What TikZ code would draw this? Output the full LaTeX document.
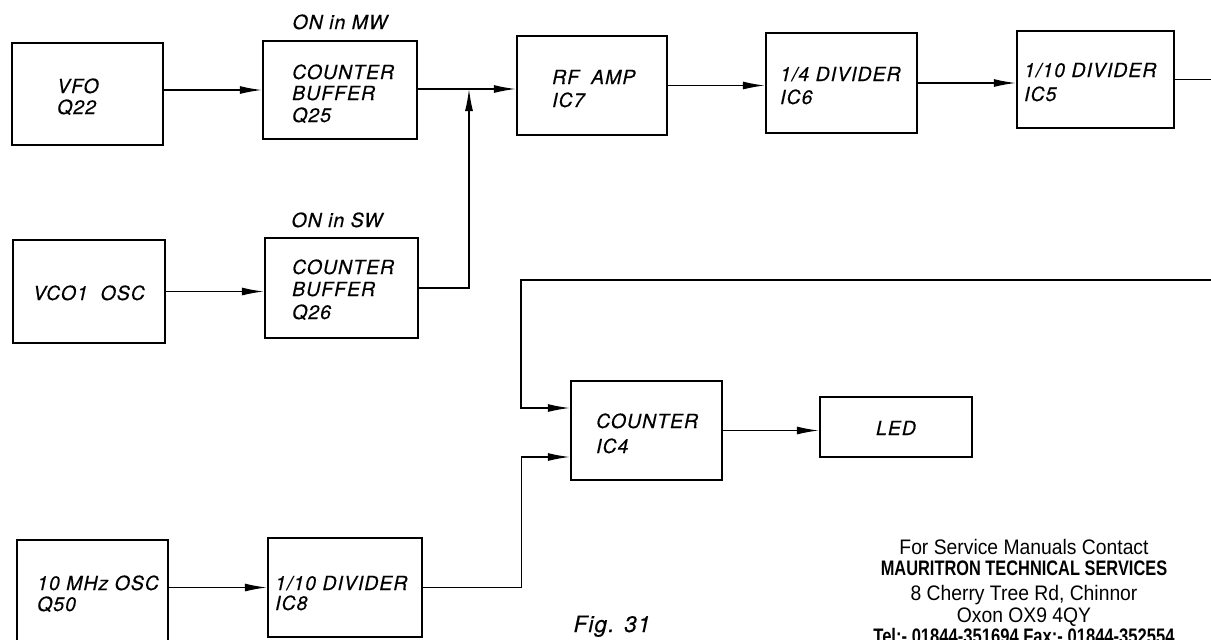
\documentclass[tikz,border=0pt]{standalone}
\usepackage{fontspec}
\usepackage{graphicx}
\usetikzlibrary{arrows.meta,calc}
\newfontfamily\lblfont[LetterSpace=5,FakeBold=0.4]{TeX Gyre Heros}
\newfontfamily\ctcfont{Liberation Sans}
\begin{document}
\begin{tikzpicture}[x=1pt,y=-1pt,
  box/.style={draw,line width=2.4pt,inner sep=0pt,minimum width=#1},
  box/.default=152pt,
  txt/.style={inner sep=0pt,anchor=base west,font=\lblfont\itshape\fontsize{19.5}{22}\selectfont},
  ctc/.style={inner sep=0pt,anchor=base,font=\ctcfont\fontsize{21}{24}\selectfont},
  wire/.style={line width=1.3pt},
  arr/.style={wire,-{Latex[length=22pt,width=8pt]}}]
\useasboundingbox (0,0) rectangle (1211,640);
% boxes
\node[box=151pt,minimum height=102pt] (vfo) at (87.5,94) {};
\node[box=154pt,minimum height=98pt] (cb1) at (340,90) {};
\node[box=152pt,minimum height=103pt] (vco) at (89,291.5) {};
\node[box=153pt,minimum height=100pt] (cb2) at (341.5,288) {};
\node[box=150pt,minimum height=99pt] (rf) at (592,85.5) {};
\node[box=151pt,minimum height=100pt] (div4) at (841.5,83) {};
\node[box=157pt,minimum height=97pt] (div10a) at (1095.5,79.5) {};
\node[box=151pt,minimum height=99pt] (cnt) at (646.5,430.5) {};
\node[box=152pt,minimum height=60pt] (led) at (896,427) {};
\node[box=151pt,minimum height=106pt] (osc10) at (92.5,593) {};
\node[box=154pt,minimum height=99pt] (div10b) at (345,587.5) {};
% texts
\node[txt] (t1a) at (57,93) {VFO};
\node[txt] (t1b) at (57,114) {Q22};
\node[txt] (t2a) at (292,79) {COUNTER};
\node[txt] (t2b) at (292,100) {BUFFER};
\node[txt] (t2c) at (292,122) {Q25};
\node[txt,anchor=base] (t2d) at (340,29) {ON in MW};
\node[txt] (t3a) at (33,300) {VCO1\ \ OSC};
\node[txt] (t4a) at (292,274) {COUNTER};
\node[txt] (t4b) at (292,296) {BUFFER};
\node[txt] (t4c) at (292,319) {Q26};
\node[txt,anchor=base] (t4d) at (337,227) {ON in SW};
\node[txt] (t5a) at (552,84) {RF\hspace{12pt}AMP};
\node[txt] (t5b) at (552,107) {IC7};
\node[txt] (t6a) at (780,81) {1/4 DIVIDER};
\node[txt] (t6b) at (780,104) {IC6};
\node[txt] (t7a) at (1024,77) {1/10 DIVIDER};
\node[txt] (t7b) at (1024,101) {IC5};
\node[txt] (t8a) at (596,428) {COUNTER};
\node[txt] (t8b) at (596,453) {IC4};
\node[txt,anchor=base] (t9a) at (896,435) {LED};
\node[txt] (t10a) at (37,590) {10 MHz OSC};
\node[txt] (t10b) at (37,611) {Q50};
\node[txt] (t11a) at (275,590) {1/10 DIVIDER};
\node[txt] (t11b) at (275,610) {IC8};
\node[txt,anchor=base,font=\lblfont\itshape\fontsize{22.5}{26}\selectfont] (fig) at (612,632) {Fig. 31};
% contact block
\node[ctc] (c1) at (1024,554) {\scalebox{0.92}[1]{For Service Manuals Contact}};
\node[ctc] (c2) at (1024,575) {\scalebox{0.78}[1]{\bfseries MAURITRON TECHNICAL SERVICES}};
\node[ctc] (c3) at (1024,600) {\scalebox{0.92}[1]{8 Cherry Tree Rd, Chinnor}};
\node[ctc] (c4) at (1024,622) {\scalebox{0.92}[1]{Oxon OX9 4QY}};
\node[ctc] (c5) at (1024,643) {\scalebox{0.79}[1]{\bfseries Tel:- 01844-351694 Fax:- 01844-352554}};
% connectors
\coordinate (j1) at (469,89);
\coordinate (outR) at (1215,79.5);
\coordinate (inR) at (1215,280);
\coordinate (fbk) at (521,280);
\coordinate (cin1) at ($(cnt.west)+(0,-22.5)$);
\coordinate (cin2) at ($(cnt.west)+(0,26.5)$);
\coordinate (fb2) at ($(cin2)+(-48,0)$);
\draw[arr] (vfo.east |- cb1.west) -- (cb1.west);
\draw[wire] (cb1.east |- j1) -- (j1);
\draw[arr] (j1) -- (rf.west |- j1);
\draw[arr] (cb2.east) -| (j1);
\draw[arr] (vco.east) -- (vco.east -| cb2.west);
\draw[arr] (rf.east) -- (rf.east -| div4.west);
\draw[arr] (div4.east) -- (div4.east -| div10a.west);
\draw[wire] (div10a.east) -- (div10a.east -| outR);
\draw[arr] (inR) -- (fbk) |- (cin1);
\draw[arr] (div10b.east) -| (fb2) -- (cin2);
\draw[arr] (osc10.east |- div10b.west) -- (div10b.west);
\draw[arr] (cnt.east) -- (cnt.east -| led.west);
\end{tikzpicture}
\end{document}
